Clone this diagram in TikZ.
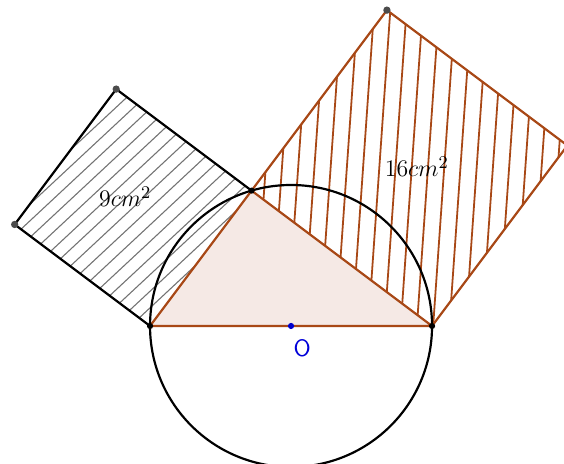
\documentclass[tikz,border=0pt]{standalone}
\usetikzlibrary{calc}
\definecolor{brn}{RGB}{168,72,22}
\definecolor{trifill}{RGB}{245,233,229}
\tikzset{
  kside/.style ={line width=1.1pt, black},
  bside/.style ={line width=1.1pt, brn},
  hatchl/.style={line width=0.55pt, black!55},
  hatchr/.style={line width=0.9pt, brn},
  gdot/.style  ={circle, fill=black!70, inner sep=0pt, minimum size=1.3mm},
  kdot/.style  ={circle, fill=black, inner sep=0pt, minimum size=1.1mm},
  odot/.style  ={circle, fill=blue!80!black, inner sep=0pt, minimum size=1.1mm},
  area/.style  ={font=\fontsize{13}{15}\selectfont},
}

\begin{document}
\begin{tikzpicture}
  \clip (-2.66,-2.43) rectangle (7.34,5.78);

  \coordinate (A) at (0,0);
  \coordinate (B) at (5,0);
  \coordinate (C) at (1.8,2.4);
  \coordinate (O) at (2.5,0);
  \coordinate (D) at (-2.4,1.8);
  \coordinate (E) at (-0.6,4.2);
  \coordinate (F) at (7.4,3.2);
  \coordinate (G) at (4.2,5.6);

  % hatching of the two squares
  \begin{scope}
    \clip (A) -- (C) -- (E) -- (D) -- cycle;
    \foreach \i in {-11,...,11}
      \draw[hatchl, shift={(-0.3,2.1)}, rotate=43] (-3,\i*0.215) -- (3,\i*0.215);
  \end{scope}
  \begin{scope}
    \clip (C) -- (B) -- (F) -- (G) -- cycle;
    \foreach \i in {-11,...,11}
      \draw[hatchr, shift={(4.64,2.8)}, rotate=86] (-3.5,\i*0.287) -- (3.5,\i*0.287);
  \end{scope}

  % triangle and circle
  \fill[trifill] (A) -- (B) -- (C) -- cycle;
  \draw[kside] (O) circle (2.5);
  \draw[bside] (A) -- (B) -- (C) -- cycle;

  % squares
  \draw[kside] (A) -- (D) -- (E) -- (C);
  \draw[bside] (C) -- (G) -- (F) -- (B);

  % points
  \node[kdot] (pA) at (A) {};
  \node[kdot] (pB) at (B) {};
  \node[kdot] (pC) at (C) {};
  \node[gdot] (pD) at (D) {};
  \node[gdot] (pE) at (E) {};
  \node[gdot] (pG) at (G) {};
  \node[odot] (pO) at (O) {};
  \node[blue!85!black, font=\sffamily\large] (lO) at (2.7,-0.39) {O};

  % areas
  \node[area] (sq1) at (-0.44,2.29) {$9cm^2$};
  \node[area] (sq2) at (4.73,2.82) {$16cm^2$};
\end{tikzpicture}
\end{document}
